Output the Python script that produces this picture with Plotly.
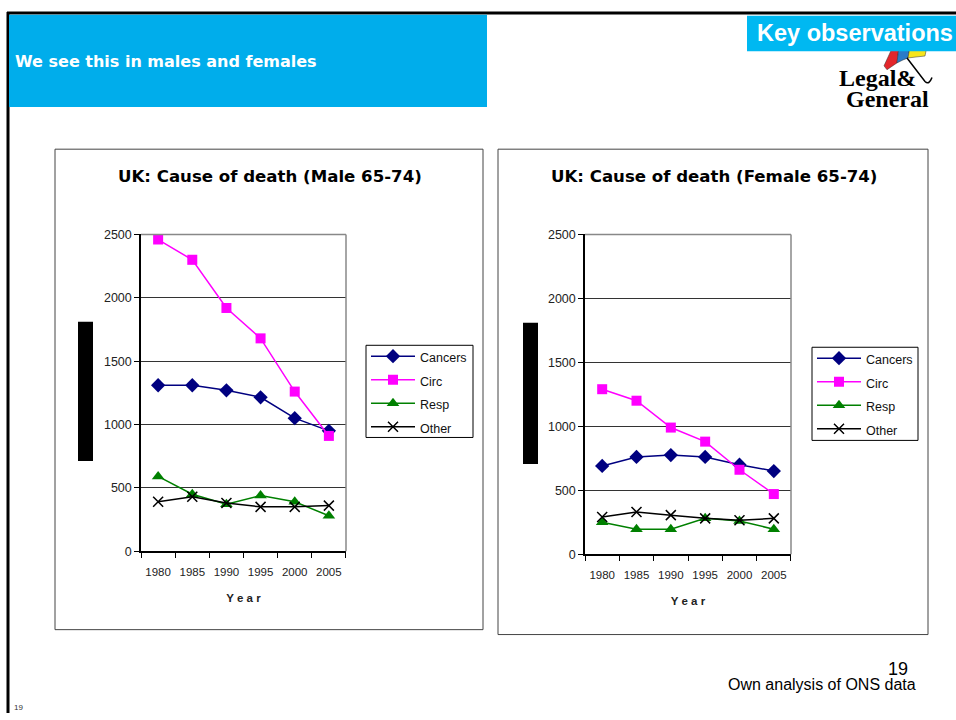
import plotly.graph_objects as go

W, H = 956, 720

years = ["1980", "1985", "1990", "1995", "2000", "2005"]

male_cancers = [1310, 1310, 1270, 1215, 1050, 950]
male_circ = [2460, 2300, 1920, 1680, 1260, 910]
male_resp = [590, 450, 370, 440, 390, 280]
male_other = [390, 430, 380, 350, 350, 360]

female_cancers = [690, 760, 775, 760, 700, 650]
female_circ = [1290, 1200, 990, 880, 660, 470]
female_resp = [250, 195, 195, 280, 260, 195]
female_other = [290, 330, 305, 280, 265, 280]

series_names = ["Cancers", "Circ", "Resp", "Other"]
series_colors = ["#000080", "#FF00FF", "#008000", "#000000"]
series_symbols = ["diamond", "square", "triangle-up", "x-thin-open"]
series_sizes = [11, 10, 11, 10]

FONT = "Arial, Liberation Sans, sans-serif"
BOLDFONT = "DejaVu Sans, Verdana, sans-serif"


def px(x):
    return x / W


def py(y):
    return 1 - y / H


fig = go.Figure()

panels = [
    ("x", "y", "legend", [male_cancers, male_circ, male_resp, male_other]),
    ("x2", "y2", "legend2", [female_cancers, female_circ, female_resp, female_other]),
]

for xa, ya, lg, data in panels:
    for name, vals, col, sym, sz in zip(series_names, data, series_colors, series_symbols, series_sizes):
        fig.add_trace(go.Scatter(
            x=years, y=vals, name=f'<span style="font-size:12.5px">{name}</span>',
            mode="lines+markers",
            xaxis=xa, yaxis=ya, legend=lg,
            line=dict(color=col, width=1.5),
            marker=dict(symbol=sym, size=sz, color=col,
                        line=dict(color=col, width=1.5 if sym.startswith("x") else 0)),
        ))

axis_common_x = dict(
    type="category", tickson="boundaries", ticks="outside", ticklen=5,
    tickcolor="black", showline=True, linecolor="black", linewidth=1.5,
    mirror=False, showgrid=False, ticklabelstandoff=9, tickangle=0,
    tickfont=dict(family=FONT, size=11.5, color="#222"),
    title=dict(text="<b>Y e a r</b>", font=dict(family=FONT, size=11.5, color="#222"), standoff=17),
    fixedrange=True,
)
axis_common_y = dict(
    range=[0, 2500], dtick=500, ticks="outside", ticklen=5, tickcolor="black",
    showline=True, linecolor="black", linewidth=1.5, showgrid=True,
    gridcolor="#333333", gridwidth=1, zeroline=False,
    tickfont=dict(family=FONT, size=12.5, color="#222"), fixedrange=True,
)

legend_common = dict(xanchor="left", yanchor="top", borderwidth=0,
                     bgcolor="rgba(0,0,0,0)", font=dict(family=FONT, size=15.8, color="#111"),
                     itemwidth=44, tracegroupgap=0)

fig.update_layout(
    width=W, height=H, autosize=False,
    margin=dict(l=0, r=0, t=0, b=0),
    paper_bgcolor="white", plot_bgcolor="white",
    font=dict(family=FONT),
    xaxis=dict(domain=[px(141), px(346)], anchor="y", **axis_common_x),
    yaxis=dict(domain=[py(555), py(232)], anchor="x", **axis_common_y),
    xaxis2=dict(domain=[px(585), px(791)], anchor="y2", **axis_common_x),
    yaxis2=dict(domain=[py(558), py(232)], anchor="x2", **axis_common_y),
    legend=dict(x=px(366), y=py(339), **legend_common),
    legend2=dict(x=px(812), y=py(341), **legend_common),
    showlegend=True,
)


def pth(points):
    return "M " + " L ".join(f"{px(a):.5f},{py(b):.5f}" for a, b in points) + " Z"


shapes = []
# umbrella logo (approximate), drawn before the box so the box covers its top
shapes.append(dict(type="path", xref="paper", yref="paper",
                   path=pth([(893, 40), (884, 60), (887, 64), (897, 57), (899, 40)]),
                   fillcolor="#E3262B", line=dict(color="#333", width=0.5)))
shapes.append(dict(type="path", xref="paper", yref="paper",
                   path=pth([(899, 40), (897, 57), (903, 54), (908, 52), (910, 40)]),
                   fillcolor="#2A7BC8", line=dict(color="#333", width=0.5)))
shapes.append(dict(type="path", xref="paper", yref="paper",
                   path=pth([(910, 40), (908, 52), (916, 51), (925, 50), (927, 40)]),
                   fillcolor="#F7E51B", line=dict(color="#333", width=0.5)))
shapes.append(dict(type="path", xref="paper", yref="paper",
                   path=f"M {px(907):.5f},{py(52):.5f} L {px(925):.5f},{py(76):.5f} "
                        f"Q {px(929):.5f},{py(80):.5f} {px(932):.5f},{py(72):.5f}",
                   line=dict(color="black", width=1.5)))
# page borders
shapes.append(dict(type="line", xref="paper", yref="paper", x0=px(8), x1=px(8), y0=py(5), y1=0,
                   line=dict(color="black", width=3)))
shapes.append(dict(type="line", xref="paper", yref="paper", x0=px(7), x1=1, y0=py(6), y1=py(6),
                   line=dict(color="black", width=3)))
# header box
shapes.append(dict(type="rect", xref="paper", yref="paper", x0=px(9), x1=px(487), y0=py(102), y1=py(8),
                   fillcolor="#00ADEB", line=dict(width=0)))
# key observations box
shapes.append(dict(type="rect", xref="paper", yref="paper", x0=px(747), x1=1, y0=py(45), y1=py(9),
                   fillcolor="#00B8F1", line=dict(width=0)))
# chart frames
shapes.append(dict(type="rect", xref="paper", yref="paper", x0=px(55), x1=px(483), y0=py(635), y1=py(145),
                   line=dict(color="#444", width=1), layer="below"))
shapes.append(dict(type="rect", xref="paper", yref="paper", x0=px(498), x1=px(928), y0=py(640), y1=py(145),
                   line=dict(color="#444", width=1), layer="below"))
# legend frames
shapes.append(dict(type="rect", xref="paper", yref="paper", x0=px(366), x1=px(473), y0=py(439), y1=py(345),
                   line=dict(color="black", width=1)))
shapes.append(dict(type="rect", xref="paper", yref="paper", x0=px(812), x1=px(918), y0=py(442), y1=py(347),
                   line=dict(color="black", width=1)))
# plot area top/right borders (grey)
for (x0, x1, y0, y1) in [(141, 346, 555, 232), (585, 791, 558, 232)]:
    shapes.append(dict(type="line", xref="paper", yref="paper", x0=px(x0), x1=px(x1), y0=py(y1), y1=py(y1),
                       line=dict(color="#888", width=1.5)))
    shapes.append(dict(type="line", xref="paper", yref="paper", x0=px(x1), x1=px(x1), y0=py(y0), y1=py(y1),
                       line=dict(color="#888", width=1.5)))
# black bars
shapes.append(dict(type="rect", xref="paper", yref="paper", x0=px(78), x1=px(93), y0=py(463), y1=py(321),
                   fillcolor="black", line=dict(width=0)))
shapes.append(dict(type="rect", xref="paper", yref="paper", x0=px(523), x1=px(538), y0=py(466), y1=py(322),
                   fillcolor="black", line=dict(width=0)))
fig.update_layout(shapes=shapes)

ann = []
ann.append(dict(text="<b>We see this in males and females</b>", x=px(13), y=py(56), xref="paper", yref="paper",
                xanchor="left", yanchor="middle", showarrow=False,
                font=dict(family=BOLDFONT, size=16, color="white")))
ann.append(dict(text="<b>Key observations</b>", x=px(855), y=py(27), xref="paper", yref="paper",
                xanchor="center", yanchor="middle", showarrow=False,
                font=dict(family=FONT, size=23.5, color="white")))
ann.append(dict(text="<b>Legal&amp;</b>", x=px(837), y=py(72), xref="paper", yref="paper",
                xanchor="left", yanchor="middle", showarrow=False,
                font=dict(family="Liberation Serif, Times New Roman, serif", size=24, color="black")))
ann.append(dict(text="<b>General</b>", x=px(844), y=py(94), xref="paper", yref="paper",
                xanchor="left", yanchor="middle", showarrow=False,
                font=dict(family="Liberation Serif, Times New Roman, serif", size=24, color="black")))
ann.append(dict(text="<b>UK: Cause of death (Male 65-74)</b>", x=px(270), y=py(173), xref="paper", yref="paper",
                xanchor="center", yanchor="middle", showarrow=False,
                font=dict(family=BOLDFONT, size=16.6, color="black")))
ann.append(dict(text="<b>UK: Cause of death (Female 65-74)</b>", x=px(714), y=py(173), xref="paper", yref="paper",
                xanchor="center", yanchor="middle", showarrow=False,
                font=dict(family=BOLDFONT, size=16.6, color="black")))
ann.append(dict(text="Own analysis of ONS data", x=px(918), y=py(691), xref="paper", yref="paper",
                xanchor="right", yanchor="middle", showarrow=False,
                font=dict(family=FONT, size=16, color="black")))
ann.append(dict(text="19", x=px(898), y=py(675), xref="paper", yref="paper",
                xanchor="center", yanchor="middle", showarrow=False,
                font=dict(family=FONT, size=18, color="black")))
ann.append(dict(text="19", x=px(12), y=py(714), xref="paper", yref="paper",
                xanchor="left", yanchor="middle", showarrow=False,
                font=dict(family=FONT, size=8, color="#333")))
fig.update_layout(annotations=ann)

post = """
document.documentElement.style.margin='0';document.documentElement.style.padding='0';
document.body.style.margin='0';document.body.style.padding='0';document.body.style.overflow='hidden';
"""
fig.write_html("out.html", config={"displayModeBar": False}, post_script=post)
